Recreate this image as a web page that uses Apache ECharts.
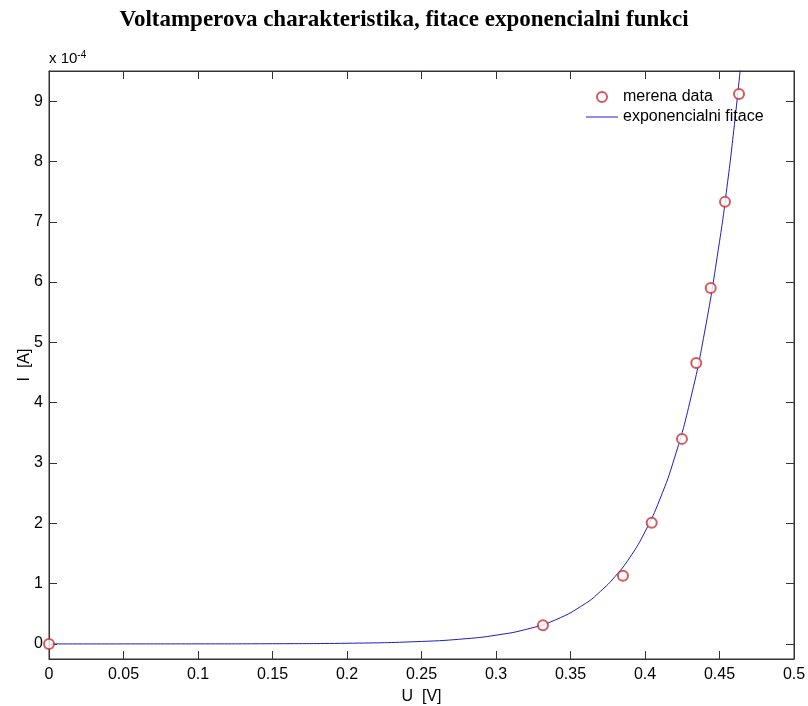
<!DOCTYPE html>
<html>
<head>
<meta charset="utf-8">
<script src="https://cdn.jsdelivr.net/npm/echarts@6/dist/echarts.min.js"></script>
<style>
  html, body { margin: 0; padding: 0; background: #fff; }
  #chart { width: 808px; height: 706px; }
</style>
</head>
<body>
<div id="chart"></div>
<script>
// merena data (proud v jednotkach 1e-4 A)
var dataU = [0, 0.3315, 0.3852, 0.4045, 0.4248, 0.4344, 0.4441, 0.4537, 0.4631];
var dataI = [0, 0.31, 1.13, 2.01, 3.40, 4.66, 5.90, 7.33, 9.12];

// fitovana krivka
var fitU = [0, 0.05, 0.1, 0.15, 0.2, 0.25, 0.28, 0.3, 0.32, 0.34, 0.36, 0.37, 0.38, 0.39, 0.4, 0.41, 0.42, 0.43, 0.44, 0.45, 0.455, 0.46, 0.465];
var fitI = [0.0001, 0.0003, 0.0009, 0.0032, 0.011, 0.041, 0.087, 0.145, 0.24, 0.40, 0.67, 0.87, 1.12, 1.44, 1.86, 2.40, 3.10, 4.00, 5.17, 6.67, 7.57, 8.61, 9.78];

var yTicks = [0, 1, 2, 3, 4, 5, 6, 7, 8, 9];

var measured = dataU.map(function (u, i) { return [u, dataI[i]]; });
var fitted = fitU.map(function (u, i) { return [u, fitI[i]]; });

var axisColor = '#333';
var font = 'Liberation Sans, Arial, sans-serif';

var myChart = echarts.init(document.getElementById('chart'));

var option = {
    backgroundColor: '#fff',
    animation: false,
    title: {
        text: 'Voltamperova charakteristika, fitace exponencialni funkci',
        left: 'center',
        top: 4,
        textStyle: {
            fontFamily: 'Liberation Serif, Times New Roman, serif',
            fontWeight: 'bold',
            fontSize: 23,
            color: '#000'
        }
    },
    legend: {
        orient: 'vertical',
        left: 581,
        top: 84,
        itemWidth: 32,
        itemHeight: 10,
        itemGap: 4,
        textStyle: { fontFamily: font, fontSize: 16, color: '#000' },
        data: [
            'merena data',
            { name: 'exponencialni fitace', icon: 'path://M0,0L32,0L32,1L0,1Z' }
        ]
    },
    graphic: [{
        type: 'text',
        left: 49,
        top: 50,
        style: {
            text: 'x 10{s|-4}',
            font: '15px ' + font,
            fill: '#000',
            rich: { s: { fontSize: 10, verticalAlign: 'top', padding: [0, 0, 8, 0], fontFamily: font } }
        }
    }],
    grid: {
        left: 49,
        right: 14,
        top: 71,
        bottom: 47,
        outerBoundsMode: 'none',
        show: true,
        borderColor: axisColor,
        borderWidth: 1
    },
    xAxis: [{
        type: 'value',
        min: 0,
        max: 0.5,
        interval: 0.05,
        name: 'U  [V]',
        nameLocation: 'middle',
        nameGap: 30,
        nameMoveOverlap: false,
        nameTextStyle: { fontFamily: font, fontSize: 16, color: '#000' },
        splitLine: { show: false },
        axisLine: { onZero: false, lineStyle: { color: axisColor } },
        axisTick: { inside: true, length: 8, lineStyle: { color: axisColor } },
        axisLabel: { fontFamily: font, fontSize: 16, color: '#000', margin: 8 }
    }, {
        type: 'value',
        position: 'top',
        min: 0,
        max: 0.5,
        interval: 0.05,
        splitLine: { show: false },
        axisLine: { onZero: false, lineStyle: { color: axisColor } },
        axisTick: { inside: true, length: 8, lineStyle: { color: axisColor } },
        axisLabel: { show: false }
    }],
    yAxis: [{
        type: 'value',
        min: -0.25,
        max: 9.5,
        name: 'I  [A]',
        nameLocation: 'middle',
        nameGap: 16,
        nameMoveOverlap: false,
        nameTextStyle: { fontFamily: font, fontSize: 16, color: '#000' },
        splitLine: { show: false },
        axisLine: { show: true, onZero: false, lineStyle: { color: axisColor } },
        axisTick: { show: true, inside: true, length: 8, customValues: yTicks, lineStyle: { color: axisColor } },
        axisLabel: { fontFamily: font, fontSize: 16, color: '#000', margin: 6, customValues: yTicks }
    }, {
        type: 'value',
        position: 'right',
        min: -0.25,
        max: 9.5,
        splitLine: { show: false },
        axisLine: { show: true, onZero: false, lineStyle: { color: axisColor } },
        axisTick: { show: true, inside: true, length: 8, customValues: yTicks, lineStyle: { color: axisColor } },
        axisLabel: { show: false, customValues: yTicks }
    }],
    series: [{
        name: 'merena data',
        type: 'scatter',
        data: measured,
        symbol: 'emptyCircle',
        symbolSize: 10,
        itemStyle: { color: '#cc3030', borderColor: '#cc3030', borderWidth: 1 },
        z: 3
    }, {
        name: 'exponencialni fitace',
        type: 'line',
        data: fitted,
        symbol: 'none',
        showSymbol: false,
        smooth: true,
        clip: true,
        lineStyle: { color: '#1c1cc8', width: 1 },
        itemStyle: { color: '#1c1cc8' },
        z: 2
    }]
};

myChart.setOption(option);
</script>
</body>
</html>
